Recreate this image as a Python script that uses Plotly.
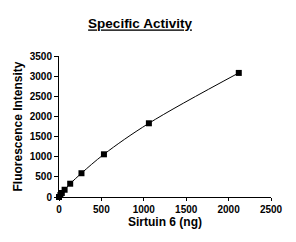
import plotly.graph_objects as go

sirtuin_ng = [0, 16.5, 33, 66, 132, 265, 530, 1060, 2120]
fluorescence = [0, 50, 100, 180, 330, 590, 1060, 1830, 3080]
x_ticks = [0, 500, 1000, 1500, 2000, 2500]
y_ticks = [0, 500, 1000, 1500, 2000, 2500, 3000, 3500]

fig = go.Figure()
fig.add_trace(go.Scatter(
    x=sirtuin_ng, y=fluorescence, mode="lines+markers",
    line=dict(color="black", width=1, shape="spline"),
    marker=dict(symbol="square", size=6, color="black"),
    cliponaxis=False, showlegend=False))

font = "Liberation Sans, Arial, sans-serif"
fig.update_layout(
    width=296, height=242,
    margin=dict(l=59, r=25, t=56, b=45),
    paper_bgcolor="white", plot_bgcolor="white",
    font=dict(family=font, color="black"),
    title=dict(text="<b><u>Specific Activity</u></b>", x=0.473, xanchor="center",
               y=0.902, yanchor="middle", font=dict(size=13.5, family=font)),
    xaxis=dict(range=[0, 2500], tickvals=x_ticks, showline=True, linecolor="black",
               linewidth=1, ticks="outside", ticklen=3, tickcolor="black",
               showgrid=False, zeroline=False,
               tickfont=dict(size=10, family=font, weight="bold"),
               title=dict(text="<b>Sirtuin 6 (ng)</b>", font=dict(size=12), standoff=3)),
    yaxis=dict(range=[0, 3500], tickvals=y_ticks, showline=True, linecolor="black",
               linewidth=1, ticks="outside", ticklen=4, tickcolor="black",
               showgrid=False, zeroline=False,
               tickfont=dict(size=10, family=font, weight="bold"),
               title=dict(text="<b>Fluorescence Intensity</b>", font=dict(size=12), standoff=4)),
)
fig.write_html("out.html")
